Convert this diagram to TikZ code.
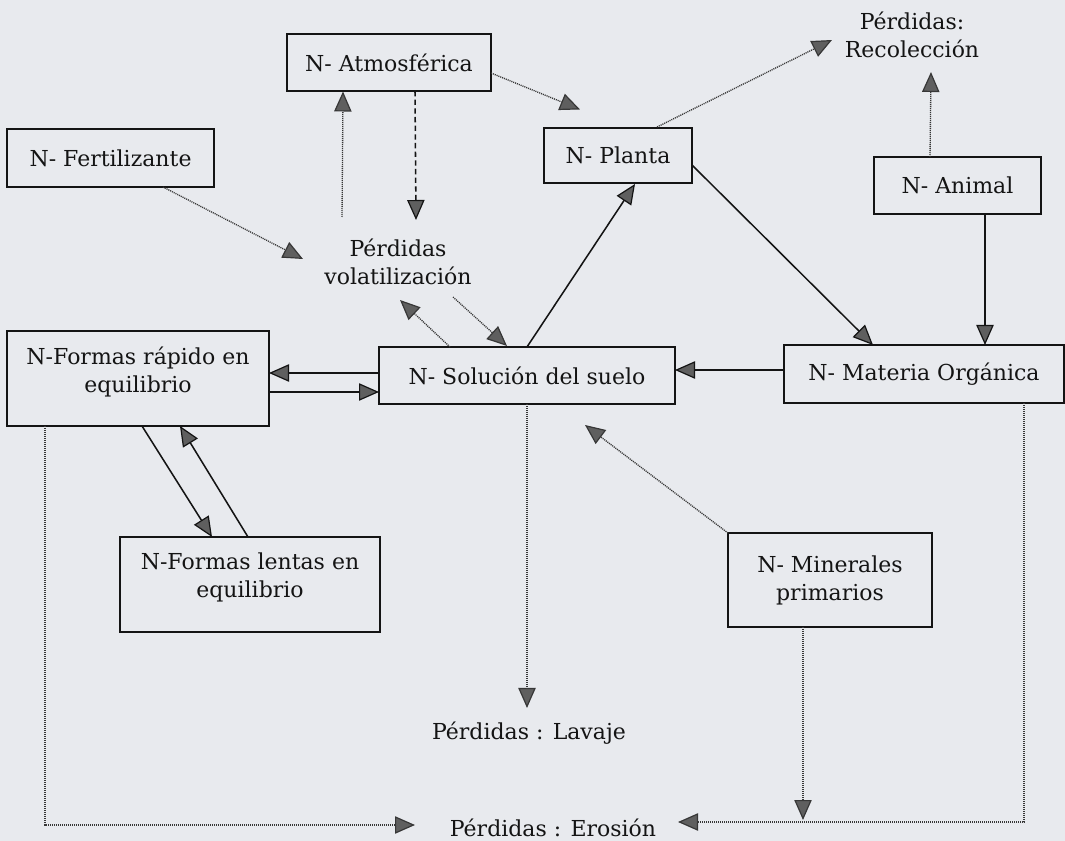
\documentclass[tikz,border=0pt]{standalone}
\usepackage{fontspec}
\setmainfont{DejaVu Serif}
\usetikzlibrary{arrows.meta,calc}
\definecolor{bg}{RGB}{232,234,238}
\definecolor{tipfill}{RGB}{95,95,95}
\definecolor{ink}{RGB}{20,20,20}
\begin{document}
\begin{tikzpicture}[x=0.75pt,y=-0.75pt,
  every node/.style={font=\fontsize{16.5pt}{21pt}\selectfont, text=ink},
  box/.style 2 args={draw=ink, line width=1.2pt, inner sep=0pt, align=center,
    minimum width=#1*0.75pt, minimum height=#2*0.75pt},
  lbl/.style={inner sep=0pt, align=center},
  tip/.style={-{Triangle[length=15pt,width=13pt,fill=tipfill,line width=0.9pt]}},
  solidc/.style={draw=ink, line width=1.15pt, tip},
  dotc/.style={draw=ink!85, line width=1pt, dash pattern=on 0.8pt off 0.7pt, tip},
  dashc/.style={draw=ink, line width=1.15pt, dash pattern=on 4pt off 2.5pt, tip}]
\fill[bg] (0,0) rectangle (1065,841);
\useasboundingbox (0,0) rectangle (1065,841);

% nodes
\node[box={204}{57}] (atm) at (389,62.5) {N- Atmosférica};
\node[box={148}{55}] (pla) at (618,155.5) {N- Planta};
\node[box={167}{57}] (ani) at (957.5,185.5) {N- Animal};
\node[box={207}{58}] (fer) at (110.5,158) {N- Fertilizante};
\node[lbl] (vol) at (398,262) {Pérdidas\\volatilización};
\node[lbl] (rec) at (912,35) {Pérdidas:\\Recolección};
\node[box={296}{57}] (sol) at (527,375.5) {N- Solución del suelo};
\node[box={280}{58}] (mo) at (924,374) {N- Materia Orgánica};
\node[box={262}{95}, label={[lbl,yshift=5pt]center:{N-Formas rápido en\\equilibrio}}] (fr) at (138,378.5) {};
\node[box={260}{95}, label={[lbl,yshift=5pt]center:{N-Formas lentas en\\equilibrio}}] (fl) at (250,584.5) {};
\node[box={204}{94}] (min) at (830,580) {N- Minerales\\primarios};
\node[lbl] (lav) at (529,733) {Pérdidas : Lavaje};
\node[lbl] (ero) at (553,828) {Pérdidas : Erosión};

% connectors
\draw[dashc] ($(atm)+(26,28.5)$) -- ($(vol)+(18,-42)$);
\draw[dotc] ($(vol)+(-56,-45)$) -- ($(atm)+(-46,29)$);
\draw[dotc] ($(atm)+(102,10.5)$) -- ($(pla)+(-38,-46)$);
\draw[dotc] ($(fer)+(52.5,29)$) -- ($(vol)+(-95,-3)$);
\draw[dotc] ($(sol)+(-77,-28.5)$) -- ($(vol)+(2,38)$);
\draw[dotc] ($(vol)+(55,35)$) -- ($(sol)+(-20,-29.5)$);
\draw[solidc] ($(sol)+(0,-28.5)$) -- ($(pla)+(17,28.5)$);
\draw[solidc] ($(pla)+(74,9.5)$) -- ($(mo)+(-51,-29)$);
\draw[solidc] ($(ani)+(27.5,28.5)$) -- ($(mo)+(61,-29)$);
\draw[dotc] ($(ani)+(-27.5,-28.5)$) -- ($(rec)+(19,37)$);
\draw[dotc] ($(pla)+(39,-28.5)$) -- ($(rec)+(-80,5)$);
\draw[solidc] ($(mo)+(-140,-4)$) -- ($(sol)+(148,-5.5)$);
\draw[solidc] ($(sol)+(-148,-2.5)$) -- ($(fr)+(131,-5.5)$);
\draw[solidc] ($(fr)+(131,13.5)$) -- ($(sol)+(-148,16.5)$);
\draw[solidc] ($(fr)+(4,47.5)$) -- ($(fl)+(-38,-47.5)$);
\draw[solidc] ($(fl)+(-2,-47.5)$) -- ($(fr)+(42,47.5)$);
\draw[dotc] ($(min)+(-102,-47)$) -- ($(sol)+(58,49.5)$);
\draw[dotc] ($(sol)+(0,28.5)$) -- ($(lav)+(-2,-25)$);
\draw[dotc] ($(fr)+(-93,47.5)$) |- ($(ero)+(-138,-3)$);
\draw[dotc] ($(mo)+(100,29)$) |- ($(ero)+(125,-6)$);
\draw[dotc] ($(min)+(-27,47)$) -- ($(min)+(-27,240)$);
\end{tikzpicture}
\end{document}
